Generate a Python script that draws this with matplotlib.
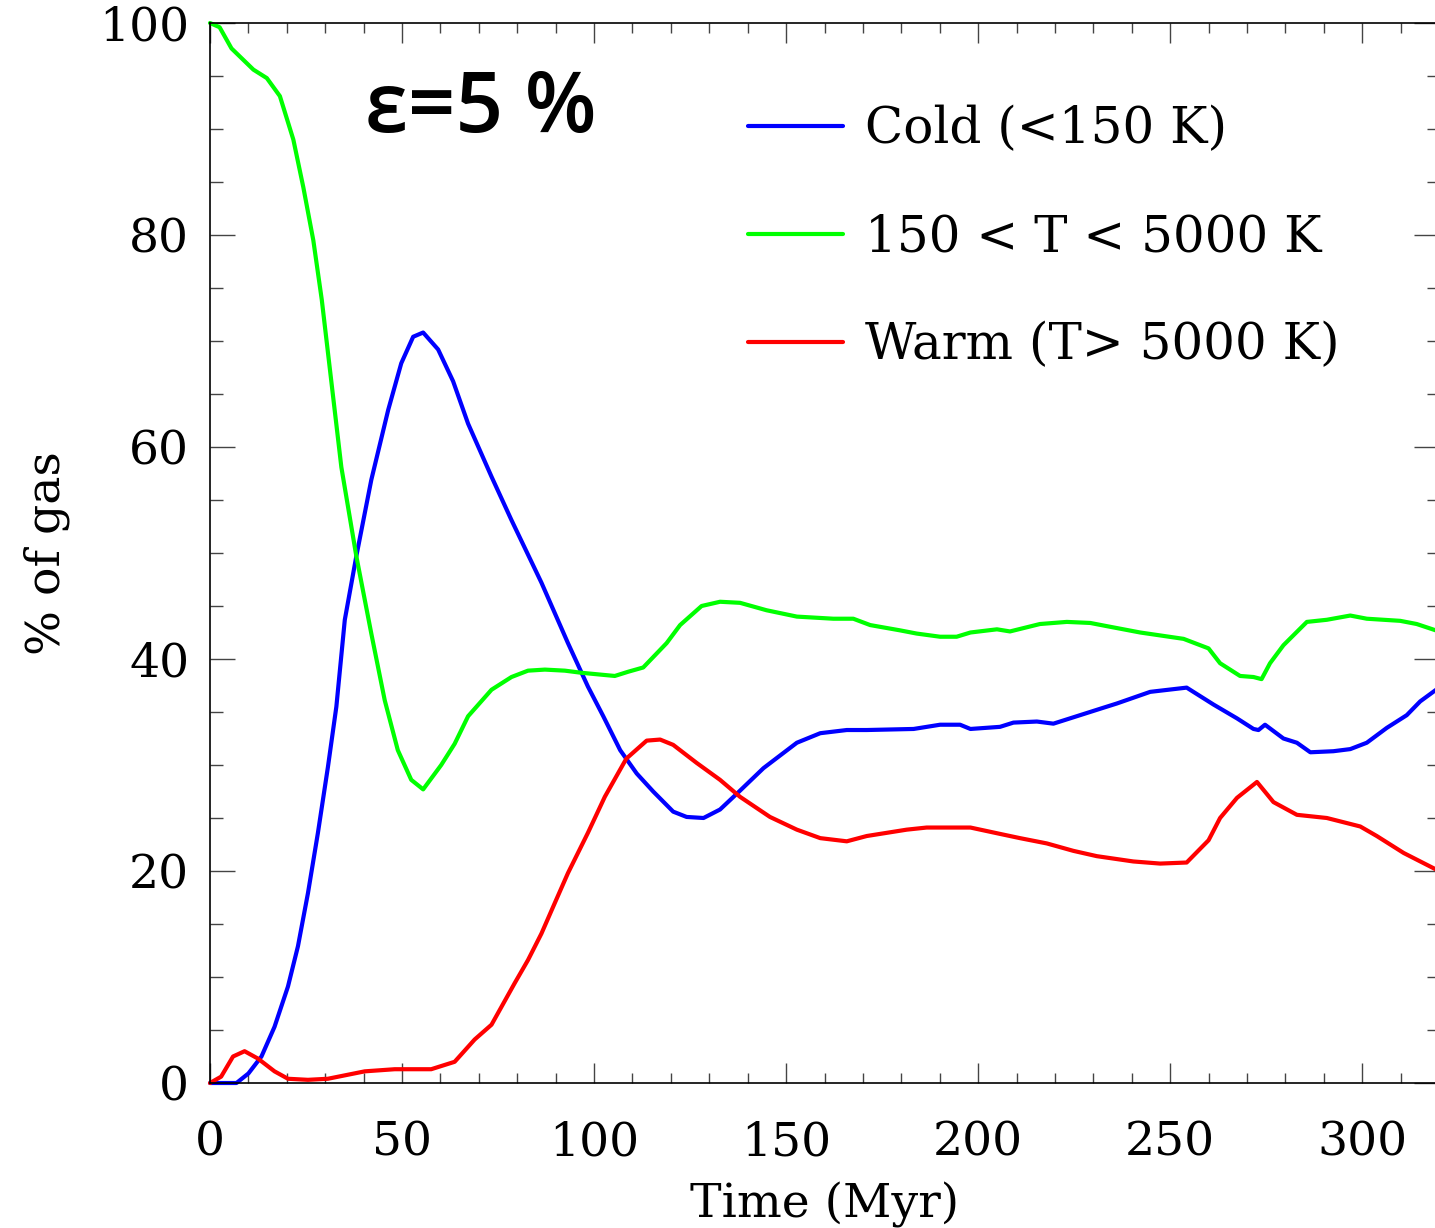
import matplotlib
matplotlib.use("Agg")
import matplotlib.pyplot as plt
from matplotlib.ticker import MultipleLocator

# ---- data ----
t_cold = [0, 6.9, 10, 13.4, 16.8, 20.3, 22.9, 25.5, 28.1, 30.7, 32.9, 35.1, 38.1, 42.0, 46.4,
          49.8, 52.9, 55.5, 59.4, 63.3, 67.2, 73.3, 78.5, 86.3, 93.2, 98.4, 102.4, 106.8,
          111.1, 115.4, 120.6, 124.1, 128.5, 132.8, 137.2, 144.1, 152.8, 158.9, 165.8,
          171.0, 183.2, 190.1, 195.3, 198.0, 205.7, 209.2, 215.3, 219.6, 227.4, 232.6,
          236.1, 244.8, 254.3, 261.3, 267.4, 271.7, 273.0, 274.7, 279.5, 283.0, 286.5,
          292.5, 296.9, 301.2, 306.4, 311.6, 315.1, 320.0]
cold = [0, 0, 0.9, 2.5, 5.3, 9.1, 12.9, 17.9, 23.6, 29.8, 35.5, 43.7, 49.7, 56.9, 63.5,
        67.9, 70.4, 70.8, 69.2, 66.2, 62.2, 57.2, 53.1, 47.2, 41.5, 37.4, 34.6, 31.4,
        29.2, 27.5, 25.6, 25.1, 25.0, 25.8, 27.3, 29.7, 32.1, 33.0, 33.3,
        33.3, 33.4, 33.8, 33.8, 33.4, 33.6, 34.0, 34.1, 33.9, 34.8, 35.4,
        35.8, 36.9, 37.3, 35.7, 34.4, 33.4, 33.3, 33.8, 32.5, 32.1, 31.2,
        31.3, 31.5, 32.1, 33.5, 34.7, 36.0, 37.3]

t_mid = [0, 2.5, 5.6, 11.3, 14.8, 18.2, 21.7, 24.3, 26.9, 29.1, 34.2, 38.1, 42.0, 45.5,
         48.9, 52.4, 55.5, 60.2, 63.7, 67.2, 73.3, 78.5, 82.8, 87.2, 92.4, 96.7, 105.4,
         108.9, 112.8, 118.9, 122.4, 128.0, 132.8, 138.0, 144.9, 152.8, 162.3, 167.5,
         171.9, 179.7, 184.0, 190.1, 194.4, 198.0, 204.9, 208.3, 216.1, 223.1, 229.2,
         233.5, 242.2, 253.5, 260.0, 263.0, 268.2, 271.7, 273.8, 276.0, 279.5, 285.6,
         290.8, 296.9, 301.2, 309.9, 314.2, 320.0]
mid = [100, 99.6, 97.6, 95.6, 94.8, 93.1, 89.0, 84.5, 79.5, 73.9, 58.1, 49.7, 42.4, 36.1,
       31.4, 28.6, 27.7, 30.0, 32.0, 34.6, 37.1, 38.3, 38.9, 39.0, 38.9, 38.7, 38.4,
       38.8, 39.2, 41.5, 43.2, 45.0, 45.4, 45.3, 44.6, 44.0, 43.8, 43.8,
       43.2, 42.7, 42.4, 42.1, 42.1, 42.5, 42.8, 42.6, 43.3, 43.5, 43.4,
       43.1, 42.5, 41.9, 41.0, 39.6, 38.4, 38.3, 38.1, 39.6, 41.3, 43.5,
       43.7, 44.1, 43.8, 43.6, 43.3, 42.6]

t_warm = [0, 2.9, 6.0, 9.0, 12.5, 16.8, 20.3, 25.5, 30.7, 40.3, 48.1, 57.6, 63.7, 68.9,
          73.3, 79.3, 82.8, 86.3, 89.8, 93.2, 98.4, 102.8, 108.4, 113.7, 117.2, 120.6,
          126.7, 132.8, 138.0, 145.8, 152.8, 158.9, 165.8, 171.0, 181.4, 186.6, 198.0,
          205.7, 210.9, 217.9, 224.8, 230.9, 240.4, 247.4, 254.3, 260.0, 263.0, 267.4,
          272.6, 276.9, 283.0, 290.8, 299.5, 303.8, 310.8, 320.0]
warm = [0, 0.6, 2.5, 3.0, 2.3, 1.1, 0.4, 0.3, 0.4, 1.1, 1.3, 1.3, 2.0, 4.1,
        5.5, 9.4, 11.6, 14.1, 17.0, 19.8, 23.6, 27.0, 30.6, 32.3, 32.4, 31.9,
        30.2, 28.6, 27.0, 25.1, 23.9, 23.1, 22.8, 23.3, 23.9, 24.1, 24.1,
        23.5, 23.1, 22.6, 21.9, 21.4, 20.9, 20.7, 20.8, 22.9, 25.0, 26.9,
        28.4, 26.5, 25.3, 25.0, 24.2, 23.3, 21.7, 20.0]

labels = ["Cold (<150 K)", "150 < T < 5000 K", "Warm (T> 5000 K)"]
colors = ["#0000ff", "#00ff00", "#ff0000"]
title = "ε=5 %"
xlabel = "Time (Myr)"
ylabel = "% of gas"

# ---- figure ----
plt.rcParams['font.family'] = ['DejaVu Serif']
W, H = 1435, 1228
fig = plt.figure(figsize=(W / 100, H / 100), dpi=100)
ax_l, ax_r, ax_t, ax_b = 210, 1439, 23, 1083
ax = fig.add_axes([ax_l / W, (H - ax_b) / H, (ax_r - ax_l) / W, (ax_b - ax_t) / H])

lw = 3.0
for (tt, yy), lab, c in zip([(t_cold, cold), (t_mid, mid), (t_warm, warm)], labels, colors):
    ax.plot(tt, yy, color=c, lw=lw, label=lab, clip_on=False,
            solid_joinstyle='round', solid_capstyle='round')

ax.set_xlim(0, 320)
ax.set_ylim(0, 100)
ax.xaxis.set_major_locator(MultipleLocator(50))
ax.xaxis.set_minor_locator(MultipleLocator(10))
ax.yaxis.set_major_locator(MultipleLocator(20))
ax.yaxis.set_minor_locator(MultipleLocator(5))
ax.tick_params(which='both', direction='in', top=True, right=True, width=1.0, color='#444444')
ax.tick_params(axis='x', which='major', length=14.5, pad=27, labelsize=34)
ax.tick_params(axis='x', which='minor', length=7.2)
ax.tick_params(axis='y', which='major', length=18, pad=15, labelsize=34)
ax.tick_params(axis='y', which='minor', length=9)
for s in ax.spines.values():
    s.set_linewidth(1.2)

ax.set_xlabel(xlabel, fontsize=34, va='baseline')
ax.xaxis.set_label_coords(0.5, -(1217 - ax_b) / (ax_b - ax_t))
ax.set_ylabel(ylabel, fontsize=34)
ax.yaxis.set_label_coords(-(ax_l - 70) / (ax_r - ax_l), 0.5)

ax.text((365 - ax_l) / (ax_r - ax_l), (ax_b - 132) / (ax_b - ax_t), title,
        transform=ax.transAxes, fontsize=60, fontweight='semibold',
        family=['Open Sans', 'DejaVu Sans'], va='baseline', ha='left')

leg = ax.legend(loc='upper left',
                bbox_to_anchor=((748 - ax_l) / (ax_r - ax_l), (ax_b - 105) / (ax_b - ax_t)),
                frameon=False, fontsize=36, handlelength=1.9, handletextpad=0.44,
                labelspacing=1.17, borderpad=0, borderaxespad=0)

fig.savefig("out.png", dpi=100)
